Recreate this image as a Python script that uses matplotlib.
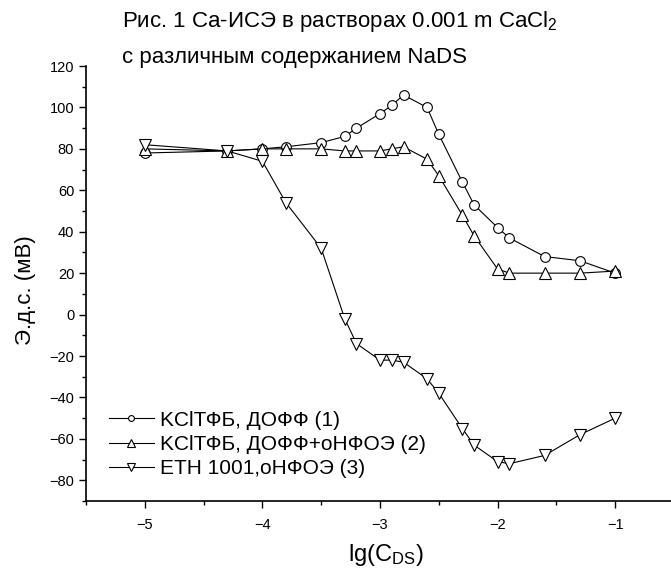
import matplotlib
matplotlib.use("Agg")
import matplotlib.pyplot as plt
from matplotlib.ticker import MultipleLocator

plt.rcParams['font.family'] = ['Liberation Sans', 'DejaVu Sans']
plt.rcParams['mathtext.fontset'] = 'custom'
plt.rcParams['mathtext.rm'] = 'Liberation Sans'
plt.rcParams['mathtext.it'] = 'Liberation Sans:italic'
plt.rcParams['mathtext.bf'] = 'Liberation Sans:bold'

# lg(C_DS) and e.m.f. (mV) for each membrane
x1 = [-5.0, -4.3, -4.0, -3.8, -3.5, -3.3, -3.2, -3.0, -2.9, -2.8, -2.6, -2.5,
      -2.3, -2.2, -2.0, -1.9, -1.6, -1.3, -1.0]
y1 = [78, 79, 80, 81, 83, 86, 90, 97, 101, 106, 100, 87,
      64, 53, 42, 37, 28, 26, 20]

x2 = [-5.0, -4.3, -4.0, -3.8, -3.5, -3.3, -3.2, -3.0, -2.9, -2.8, -2.6, -2.5,
      -2.3, -2.2, -2.0, -1.9, -1.6, -1.3, -1.0]
y2 = [80, 79, 80, 80, 80, 79, 79, 79, 80, 81, 75, 67,
      48, 38, 22, 20, 20, 20, 21]

x3 = [-5.0, -4.3, -4.0, -3.8, -3.5, -3.3, -3.2, -3.0, -2.9, -2.8, -2.6, -2.5,
      -2.3, -2.2, -2.0, -1.9, -1.6, -1.3, -1.0]
y3 = [82, 79, 74, 54, 32, -2, -14, -22, -22, -23, -31, -38,
      -55, -63, -71, -72, -68, -58, -50]

labels = ['KClТФБ, ДОФФ (1)', 'KClТФБ, ДОФФ+оНФОЭ (2)', 'ETH 1001,оНФОЭ (3)']

fig = plt.figure(figsize=(6.71, 5.74), dpi=100)
ax = fig.add_axes([86 / 671, 1 - 501 / 574, (674 - 86) / 671, (501 - 66) / 574])

common = dict(color='black', linewidth=0.8, markerfacecolor='white',
              markeredgecolor='black', markeredgewidth=0.8)
ax.plot(x1, y1, marker='o', markersize=7, label=labels[0], **common)
ax.plot(x2, y2, marker='^', markersize=8.5, label=labels[1], **common)
ax.plot(x3, y3, marker='v', markersize=8.5, label=labels[2], **common)

ax.set_xlim(-5.5, -0.5)
ax.set_ylim(-90, 120)
ax.xaxis.set_major_locator(MultipleLocator(1))
ax.xaxis.set_minor_locator(MultipleLocator(0.5))
ax.yaxis.set_major_locator(MultipleLocator(20))
ax.yaxis.set_minor_locator(MultipleLocator(10))
ax.set_xticks([-5, -4, -3, -2, -1])
ax.tick_params(which='major', direction='out', length=5, width=1, labelsize=10.5)
ax.tick_params(which='minor', direction='out', length=3, width=1)
ax.tick_params(axis='x', pad=7)

for side in ('top', 'right'):
    ax.spines[side].set_visible(False)
for side in ('left', 'bottom'):
    ax.spines[side].set_linewidth(1.2)

ax.set_xlabel(r'lg(C$_{\mathrm{DS}}$)', fontsize=17)
ax.xaxis.set_label_coords((386 - 86) / 588, -(555 - 501) / 435)
ax.xaxis.label.set_va('center')
ax.set_ylabel('Э.д.с. (мВ)', fontsize=16)
ax.yaxis.set_label_coords((26 - 86) / 588, (501 - 290) / 435)
ax.yaxis.label.set_va('center')

fig.text(122 / 671, 1 - 22 / 574, r'Рис. 1 Са-ИСЭ в растворах 0.001 m CaCl$_{2}$',
         fontsize=16, ha='left', va='center')
fig.text(122 / 671, 1 - 58 / 574, 'с различным содержанием NaDS',
         fontsize=16, ha='left', va='center')

ax.legend(loc='lower left', bbox_to_anchor=(0.0, 0.0), frameon=False,
          fontsize=15, markerscale=0.6, handlelength=2.15, handletextpad=0.3,
          labelspacing=0.25, borderaxespad=0.7)

fig.savefig('out.png', dpi=100)
